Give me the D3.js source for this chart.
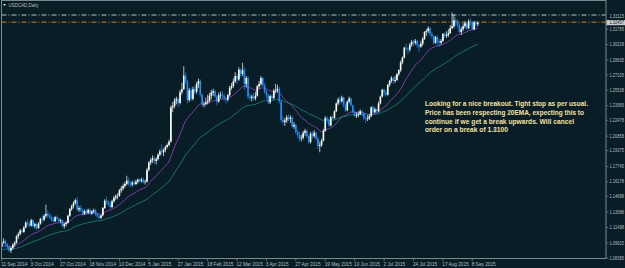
<!DOCTYPE html>
<html>
<head>
<meta charset="utf-8">
<script src="https://cdn.jsdelivr.net/npm/d3@7"></script>
<style>
  html, body { margin: 0; padding: 0; background: #081d25; overflow: hidden; }
  svg { display: block; }
</style>
</head>
<body>
<svg id="chart" width="625" height="268"></svg>
<script>
// ---- data ----
const symbolTitle = 'USDCAD,Daily';

// one row per daily bar: [open, high, low, close], 11 Sep 2014 .. 11 Sep 2015
const candles = [
  [1.0960,1.1010,1.0950,1.0995],[1.0995,1.1040,1.0985,1.1010],[1.1010,1.1025,1.0965,1.0975],[1.0975,1.0990,1.0930,1.0950],
  [1.0950,1.0965,1.0900,1.0915],[1.0915,1.0955,1.0890,1.0940],[1.0940,1.0990,1.0925,1.0975],[1.0975,1.1010,1.0955,1.0995],
  [1.0995,1.1070,1.0985,1.1060],[1.1060,1.1100,1.1035,1.1085],[1.1085,1.1135,1.1070,1.1120],[1.1120,1.1140,1.1090,1.1105],
  [1.1105,1.1165,1.1095,1.1150],[1.1150,1.1215,1.1140,1.1200],[1.1200,1.1235,1.1165,1.1185],[1.1185,1.1210,1.1150,1.1170],
  [1.1170,1.1240,1.1160,1.1225],[1.1225,1.1235,1.1150,1.1165],[1.1165,1.1200,1.1140,1.1185],[1.1185,1.1195,1.1120,1.1145],
  [1.1145,1.1205,1.1135,1.1190],[1.1190,1.1250,1.1180,1.1240],[1.1240,1.1270,1.1200,1.1230],[1.1230,1.1285,1.1215,1.1270],
  [1.1270,1.1385,1.1250,1.1290],[1.1290,1.1325,1.1250,1.1275],[1.1275,1.1300,1.1240,1.1260],[1.1260,1.1275,1.1215,1.1230],
  [1.1230,1.1255,1.1200,1.1215],[1.1215,1.1270,1.1205,1.1255],[1.1255,1.1275,1.1225,1.1240],[1.1240,1.1255,1.1200,1.1215],
  [1.1215,1.1240,1.1195,1.1225],[1.1225,1.1230,1.1150,1.1165],[1.1165,1.1200,1.1140,1.1185],[1.1185,1.1215,1.1160,1.1200],
  [1.1200,1.1285,1.1190,1.1270],[1.1270,1.1350,1.1260,1.1340],[1.1340,1.1385,1.1320,1.1370],[1.1370,1.1420,1.1345,1.1400],
  [1.1400,1.1445,1.1385,1.1430],[1.1430,1.1465,1.1320,1.1335],[1.1335,1.1370,1.1310,1.1350],[1.1350,1.1380,1.1310,1.1325],
  [1.1325,1.1345,1.1270,1.1290],[1.1290,1.1335,1.1280,1.1320],[1.1320,1.1340,1.1285,1.1300],[1.1300,1.1345,1.1290,1.1330],
  [1.1330,1.1345,1.1280,1.1295],[1.1295,1.1330,1.1280,1.1315],[1.1315,1.1345,1.1300,1.1325],[1.1325,1.1340,1.1270,1.1290],
  [1.1290,1.1300,1.1250,1.1265],[1.1265,1.1280,1.1235,1.1250],[1.1250,1.1285,1.1240,1.1275],[1.1275,1.1360,1.1265,1.1350],
  [1.1350,1.1440,1.1340,1.1425],[1.1425,1.1465,1.1385,1.1410],[1.1410,1.1430,1.1370,1.1390],[1.1390,1.1420,1.1340,1.1360],
  [1.1360,1.1435,1.1350,1.1420],[1.1420,1.1475,1.1405,1.1455],[1.1455,1.1490,1.1430,1.1470],[1.1470,1.1500,1.1440,1.1475],
  [1.1475,1.1545,1.1465,1.1530],[1.1530,1.1575,1.1505,1.1550],[1.1550,1.1600,1.1530,1.1575],[1.1575,1.1620,1.1555,1.1595],
  [1.1595,1.1680,1.1580,1.1630],[1.1630,1.1660,1.1575,1.1600],[1.1600,1.1625,1.1560,1.1590],[1.1590,1.1630,1.1570,1.1610],
  [1.1610,1.1630,1.1580,1.1595],[1.1595,1.1640,1.1585,1.1620],[1.1620,1.1650,1.1600,1.1640],[1.1640,1.1655,1.1610,1.1625],
  [1.1625,1.1660,1.1610,1.1640],[1.1640,1.1660,1.1600,1.1615],[1.1615,1.1640,1.1590,1.1620],[1.1620,1.1760,1.1610,1.1740],
  [1.1740,1.1830,1.1725,1.1815],[1.1815,1.1860,1.1790,1.1840],[1.1840,1.1890,1.1810,1.1860],[1.1860,1.1880,1.1800,1.1830],
  [1.1830,1.1870,1.1795,1.1850],[1.1850,1.1910,1.1835,1.1895],[1.1895,1.1950,1.1880,1.1930],[1.1930,1.2000,1.1890,1.1920],
  [1.1920,1.1960,1.1880,1.1945],[1.1945,1.1990,1.1920,1.1975],[1.1975,1.2010,1.1960,1.1995],[1.1995,1.2050,1.1980,1.2030],
  [1.2030,1.2400,1.2020,1.2380],[1.2380,1.2435,1.2330,1.2395],[1.2395,1.2475,1.2370,1.2450],[1.2450,1.2490,1.2410,1.2465],
  [1.2465,1.2480,1.2380,1.2425],[1.2425,1.2560,1.2410,1.2535],[1.2535,1.2630,1.2510,1.2565],[1.2565,1.2800,1.2560,1.2705],
  [1.2705,1.2740,1.2620,1.2650],[1.2650,1.2660,1.2420,1.2455],[1.2455,1.2580,1.2435,1.2555],[1.2555,1.2580,1.2445,1.2465],
  [1.2465,1.2590,1.2450,1.2565],[1.2565,1.2600,1.2510,1.2540],[1.2540,1.2640,1.2520,1.2620],[1.2620,1.2675,1.2580,1.2650],
  [1.2650,1.2665,1.2490,1.2510],[1.2510,1.2520,1.2390,1.2410],[1.2410,1.2440,1.2380,1.2415],[1.2415,1.2480,1.2400,1.2430],
  [1.2430,1.2510,1.2410,1.2445],[1.2445,1.2530,1.2430,1.2500],[1.2500,1.2560,1.2460,1.2530],[1.2530,1.2570,1.2495,1.2545],
  [1.2545,1.2560,1.2470,1.2490],[1.2490,1.2505,1.2400,1.2440],[1.2440,1.2530,1.2425,1.2505],[1.2505,1.2540,1.2470,1.2510],
  [1.2510,1.2550,1.2465,1.2495],[1.2495,1.2520,1.2450,1.2475],[1.2475,1.2490,1.2420,1.2460],[1.2460,1.2520,1.2440,1.2505],
  [1.2505,1.2600,1.2490,1.2580],[1.2580,1.2630,1.2560,1.2600],[1.2600,1.2675,1.2580,1.2645],[1.2645,1.2740,1.2630,1.2700],
  [1.2700,1.2720,1.2620,1.2665],[1.2665,1.2790,1.2650,1.2765],[1.2765,1.2780,1.2690,1.2720],[1.2720,1.2835,1.2700,1.2760],
  [1.2760,1.2790,1.2560,1.2620],[1.2620,1.2700,1.2580,1.2680],[1.2680,1.2700,1.2470,1.2490],[1.2490,1.2520,1.2450,1.2475],
  [1.2475,1.2510,1.2440,1.2490],[1.2490,1.2530,1.2460,1.2470],[1.2470,1.2540,1.2450,1.2500],[1.2500,1.2610,1.2490,1.2595],
  [1.2595,1.2650,1.2570,1.2620],[1.2620,1.2700,1.2600,1.2680],[1.2680,1.2690,1.2590,1.2605],[1.2605,1.2630,1.2520,1.2540],
  [1.2540,1.2560,1.2470,1.2500],[1.2500,1.2520,1.2410,1.2430],[1.2430,1.2510,1.2415,1.2495],[1.2495,1.2520,1.2450,1.2475],
  [1.2475,1.2570,1.2460,1.2550],[1.2550,1.2620,1.2520,1.2555],[1.2555,1.2610,1.2530,1.2570],[1.2570,1.2590,1.2420,1.2440],
  [1.2440,1.2460,1.2230,1.2250],[1.2250,1.2290,1.2200,1.2230],[1.2230,1.2270,1.2190,1.2245],[1.2245,1.2300,1.2220,1.2280],
  [1.2280,1.2310,1.2240,1.2260],[1.2260,1.2300,1.2220,1.2275],[1.2275,1.2290,1.2170,1.2185],[1.2185,1.2230,1.2160,1.2200],
  [1.2200,1.2210,1.2110,1.2125],[1.2125,1.2150,1.2070,1.2095],[1.2095,1.2130,1.2030,1.2060],[1.2060,1.2100,1.2030,1.2070],
  [1.2070,1.2140,1.2050,1.2120],[1.2120,1.2160,1.2090,1.2140],[1.2140,1.2155,1.2065,1.2085],[1.2085,1.2095,1.2000,1.2025],
  [1.2025,1.2130,1.2010,1.2110],[1.2110,1.2135,1.2060,1.2085],[1.2085,1.2145,1.2070,1.2120],[1.2120,1.2130,1.2040,1.2060],
  [1.2060,1.2080,1.1950,1.1985],[1.1985,1.2030,1.1920,1.1995],[1.1995,1.2060,1.1975,1.2040],[1.2040,1.2160,1.2030,1.2140],
  [1.2140,1.2290,1.2130,1.2270],[1.2270,1.2290,1.2220,1.2255],[1.2255,1.2270,1.2180,1.2195],[1.2195,1.2290,1.2185,1.2280],
  [1.2280,1.2300,1.2250,1.2270],[1.2270,1.2350,1.2260,1.2340],[1.2340,1.2430,1.2330,1.2420],[1.2420,1.2480,1.2400,1.2460],
  [1.2460,1.2490,1.2410,1.2440],[1.2440,1.2500,1.2430,1.2480],[1.2480,1.2490,1.2380,1.2400],[1.2400,1.2420,1.2330,1.2350],
  [1.2350,1.2450,1.2340,1.2440],[1.2440,1.2490,1.2420,1.2470],[1.2470,1.2480,1.2390,1.2400],[1.2400,1.2410,1.2320,1.2330],
  [1.2330,1.2350,1.2280,1.2290],[1.2290,1.2330,1.2270,1.2300],[1.2300,1.2340,1.2280,1.2310],[1.2310,1.2360,1.2300,1.2340],
  [1.2340,1.2350,1.2290,1.2320],[1.2320,1.2330,1.2250,1.2270],[1.2270,1.2290,1.2220,1.2260],[1.2260,1.2300,1.2240,1.2265],
  [1.2265,1.2310,1.2250,1.2290],[1.2290,1.2390,1.2280,1.2380],[1.2380,1.2400,1.2320,1.2330],[1.2330,1.2380,1.2320,1.2360],
  [1.2360,1.2370,1.2320,1.2340],[1.2340,1.2440,1.2330,1.2420],[1.2420,1.2500,1.2410,1.2490],[1.2490,1.2570,1.2480,1.2560],
  [1.2560,1.2570,1.2500,1.2530],[1.2530,1.2560,1.2490,1.2510],[1.2510,1.2620,1.2500,1.2610],[1.2610,1.2660,1.2590,1.2650],
  [1.2650,1.2700,1.2630,1.2680],[1.2680,1.2690,1.2620,1.2650],[1.2650,1.2700,1.2630,1.2660],[1.2660,1.2730,1.2650,1.2720],
  [1.2720,1.2770,1.2700,1.2760],[1.2760,1.2860,1.2740,1.2840],[1.2840,1.2900,1.2820,1.2890],[1.2890,1.3000,1.2880,1.2990],
  [1.2990,1.3030,1.2950,1.2980],[1.2980,1.3000,1.2920,1.2970],[1.2970,1.3040,1.2950,1.3020],[1.3020,1.3070,1.3000,1.3050],
  [1.3050,1.3070,1.3010,1.3040],[1.3040,1.3080,1.3020,1.3060],[1.3060,1.3070,1.2990,1.3020],[1.3020,1.3030,1.2950,1.3000],
  [1.3000,1.3060,1.2990,1.3030],[1.3030,1.3100,1.3010,1.3080],[1.3080,1.3160,1.3070,1.3150],[1.3150,1.3180,1.3110,1.3160],
  [1.3160,1.3210,1.3140,1.3190],[1.3190,1.3200,1.3110,1.3130],[1.3130,1.3150,1.3080,1.3110],[1.3110,1.3120,1.3020,1.3040],
  [1.3040,1.3110,1.3030,1.3100],[1.3100,1.3120,1.3010,1.3060],[1.3060,1.3080,1.3000,1.3040],[1.3040,1.3080,1.3020,1.3060],
  [1.3060,1.3140,1.3050,1.3130],[1.3130,1.3150,1.3090,1.3110],[1.3110,1.3160,1.3090,1.3120],[1.3120,1.3180,1.3100,1.3140],
  [1.3140,1.3220,1.3130,1.3190],[1.3190,1.3350,1.3180,1.3210],[1.3210,1.3330,1.3190,1.3270],[1.3270,1.3300,1.3210,1.3260],
  [1.3260,1.3280,1.3190,1.3220],[1.3220,1.3240,1.3140,1.3150],[1.3150,1.3200,1.3120,1.3180],[1.3180,1.3240,1.3160,1.3210],
  [1.3210,1.3260,1.3190,1.3240],[1.3240,1.3250,1.3170,1.3190],[1.3190,1.3280,1.3180,1.3260],[1.3260,1.3290,1.3220,1.3250],
  [1.3250,1.3260,1.3170,1.3180],[1.3180,1.3260,1.3170,1.3250],[1.3250,1.3270,1.3200,1.3230],[1.3230,1.3260,1.3210,1.3246]
];

// moving averages: periods and their value at the first bar
const maPeriods = [20, 50];
const maSeeds = [1.0950, 1.0920];

// price scale labels
const priceTicks = [1.31785, 1.30218, 1.28635, 1.27105, 1.25538, 1.23965, 1.22478, 1.20858,
  1.19375, 1.17745, 1.16178, 1.14698, 1.13088, 1.11498, 1.09915, 1.08385];
const linePrice = 1.33115;   // grey dash-dot line
const bidPrice = 1.32457;    // orange dash-dot line + highlighted label

// time scale labels and the bar each one sits on
const dateLabels = ['11 Sep 2014', '3 Oct 2014', '27 Oct 2014', '18 Nov 2014', '10 Dec 2014',
  '5 Jan 2015', '27 Jan 2015', '18 Feb 2015', '12 Mar 2015', '3 Apr 2015', '27 Apr 2015',
  '19 May 2015', '10 Jun 2015', '2 Jul 2015', '24 Jul 2015', '17 Aug 2015', '8 Sep 2015'];
const dateLabelBars = [0, 16, 32, 48, 64, 80, 96, 112, 128, 144, 160, 176, 192, 208, 224, 240, 256];

const noteLines = [
  'Looking for a nice breakout. Tight stop as per usual.',
  'Price has been respecting 20EMA, expecting this to',
  'continue if we get a break upwards. Will cancel',
  'order on a break of 1.3100'
];

// ---- layout ----
const W = 625, H = 268;
const plot = { left: 1.5, right: 606, top: 0.5, bottom: 258.5 };
const colors = {
  bg: '#081d25', frame: '#7c878b', text: '#b9bfc1',
  up: '#ffffff', down: '#1e8fff',
  ma: ['#9b47c9', '#1d8a7c'],
  line: '#bfc3c5', bid: '#d4851c', note: '#f3e1a4'
};
const noteWidths = [163, 159, 149, 83];

const svg = d3.select('#chart');

const x = d3.scaleLinear().domain([0, 256]).range([1.8, 472.3]);
const y = d3.scaleLinear().domain([1.08385, 1.31785]).range([258, 29.3]);

function ema(values, period, seed) {
  const k = 2 / (period + 1);
  let e = seed;
  return values.map((v) => (e = e + k * (v - e)));
}

function drawFrame() {
  svg.append('rect').attr('width', W).attr('height', H).attr('fill', colors.bg);
  svg.append('rect')
    .attr('x', plot.left).attr('y', plot.top)
    .attr('width', plot.right - plot.left).attr('height', plot.bottom - plot.top)
    .attr('fill', 'none').attr('stroke', colors.frame).attr('stroke-width', 1);

  svg.append('defs').append('clipPath').attr('id', 'plotClip')
    .append('rect')
    .attr('x', plot.left + 0.5).attr('y', plot.top + 0.5)
    .attr('width', plot.right - plot.left - 1).attr('height', plot.bottom - plot.top - 1);

  // title + little menu triangle
  svg.append('path').attr('d', 'M3,4 L6,4 L4.5,6 Z').attr('fill', '#d8dcdd');
  svg.append('text')
    .attr('x', 8.5).attr('y', 6.8)
    .attr('font-family', 'Liberation Sans, Arial, sans-serif')
    .attr('font-size', 5).attr('fill', colors.text)
    .attr('textLength', 30).attr('lengthAdjust', 'spacingAndGlyphs')
    .text(symbolTitle);
}

function drawLevels(g) {
  g.append('line')
    .attr('x1', plot.left).attr('x2', plot.right)
    .attr('y1', y(linePrice) - 1.3).attr('y2', y(linePrice) - 1.3)
    .attr('stroke', colors.line).attr('stroke-width', 1)
    .attr('stroke-dasharray', '5,2,1,2');
  g.append('line')
    .attr('x1', plot.left).attr('x2', plot.right)
    .attr('y1', y(bidPrice) - 0.6).attr('y2', y(bidPrice) - 0.6)
    .attr('stroke', colors.bid).attr('stroke-width', 1)
    .attr('stroke-dasharray', '5,2,1,2');
}

function drawMAs(g) {
  const closes = candles.map((d) => d[3]);
  maPeriods.forEach((p, i) => {
    const vals = ema(closes, p, maSeeds[i]);
    const line = d3.line().x((d, j) => x(j)).y((d) => y(d));
    g.append('path')
      .attr('d', line(vals))
      .attr('fill', 'none')
      .attr('stroke', colors.ma[i])
      .attr('stroke-width', 0.8);
  });
}

function drawCandles(g) {
  const bars = g.selectAll('.bar').data(candles).enter().append('g').attr('class', 'bar');
  bars.append('line')
    .attr('x1', (d, i) => x(i)).attr('x2', (d, i) => x(i))
    .attr('y1', (d) => y(d[1])).attr('y2', (d) => y(d[2]))
    .attr('stroke', (d) => (d[3] >= d[0] ? colors.up : colors.down))
    .attr('stroke-width', 0.7);
  bars.append('rect')
    .attr('x', (d, i) => x(i) - 0.8)
    .attr('width', 1.6)
    .attr('y', (d) => y(Math.max(d[0], d[3])))
    .attr('height', (d) => Math.max(0.6, Math.abs(y(d[0]) - y(d[3]))))
    .attr('fill', (d) => (d[3] >= d[0] ? colors.up : colors.down));
}

function drawAxes() {
  const font = 'Liberation Sans, Arial, sans-serif';
  // price axis
  const py = svg.append('g').attr('class', 'price-axis');
  py.selectAll('line').data(priceTicks).enter().append('line')
    .attr('x1', plot.right).attr('x2', plot.right + 2.5)
    .attr('y1', (d) => y(d)).attr('y2', (d) => y(d))
    .attr('stroke', colors.frame).attr('stroke-width', 0.7);
  py.selectAll('text').data(priceTicks.concat([linePrice])).enter().append('text')
    .attr('x', 609.5).attr('y', (d) => y(d) + 1.6)
    .attr('font-family', font).attr('font-size', 4.6)
    .attr('fill', colors.text)
    .attr('textLength', 14.5).attr('lengthAdjust', 'spacingAndGlyphs')
    .text((d) => d.toFixed(5));

  py.append('rect')
    .attr('x', 606.5).attr('y', y(bidPrice) - 2.7)
    .attr('width', 18.5).attr('height', 5.2)
    .attr('fill', '#c9cccd');
  py.append('text')
    .attr('x', 609.5).attr('y', y(bidPrice) + 1.6)
    .attr('font-family', font).attr('font-size', 4.6)
    .attr('fill', '#10181b')
    .attr('textLength', 14.5).attr('lengthAdjust', 'spacingAndGlyphs')
    .text(bidPrice.toFixed(5));

  // time axis
  const tx = svg.append('g').attr('class', 'time-axis');
  tx.selectAll('line').data(dateLabelBars).enter().append('line')
    .attr('x1', (d) => x(d)).attr('x2', (d) => x(d))
    .attr('y1', plot.bottom).attr('y2', plot.bottom + 2.5)
    .attr('stroke', colors.frame).attr('stroke-width', 0.7);
  tx.selectAll('text').data(dateLabels).enter().append('text')
    .attr('x', (d, i) => x(dateLabelBars[i]) - 0.6)
    .attr('y', 265.8)
    .attr('font-family', font).attr('font-size', 4.7)
    .attr('fill', colors.text)
    .text((d) => d);
}

function drawNote() {
  svg.append('g').selectAll('text').data(noteLines).enter().append('text')
    .attr('x', 425)
    .attr('y', (d, i) => 106.3 + i * 8.6)
    .attr('font-family', 'Liberation Sans, Arial, sans-serif')
    .attr('font-weight', 'bold')
    .attr('font-size', 6.4)
    .attr('fill', colors.note)
    .attr('textLength', (d, i) => noteWidths[i])
    .attr('lengthAdjust', 'spacingAndGlyphs')
    .text((d) => d);
}

drawFrame();
const plotG = svg.append('g').attr('clip-path', 'url(#plotClip)');
drawLevels(plotG);
drawMAs(plotG);
drawCandles(plotG);
drawAxes();
drawNote();
</script>
</body>
</html>
